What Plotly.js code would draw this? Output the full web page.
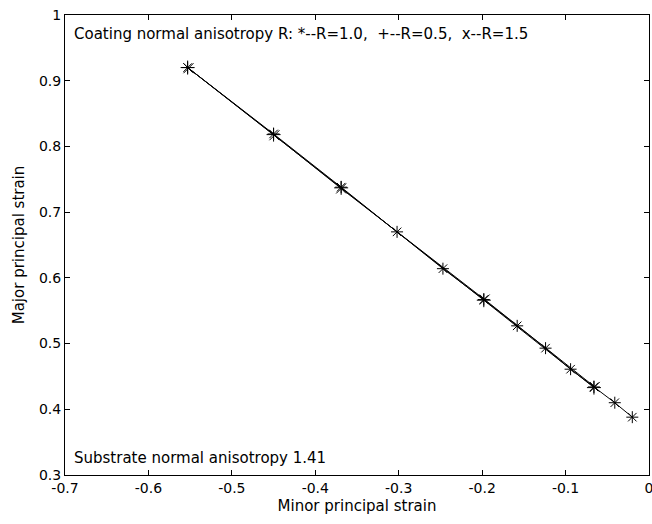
<!DOCTYPE html>
<html>
<head>
<meta charset="utf-8">
<script src="https://cdn.plot.ly/plotly-3.0.1.min.js"></script>
<style>html,body{margin:0;padding:0;background:#fff}#chart{width:652px;height:524px}</style>
</head>
<body>
<div id="chart"></div>
<script>
// R = 1.0 (*)
const minorR10 = [-0.553, -0.450, -0.369, -0.302, -0.247, -0.198, -0.158, -0.124, -0.094, -0.066, -0.041, -0.020];
const majorR10 = [0.920, 0.819, 0.738, 0.670, 0.614, 0.567, 0.527, 0.493, 0.461, 0.434, 0.410, 0.388];
// R = 0.5 (+)
const minorR05 = [-0.553, -0.450, -0.369, -0.198, -0.066];
const majorR05 = [0.920, 0.818, 0.737, 0.566, 0.433];
// R = 1.5 (x)
const minorR15 = [-0.552, -0.449, -0.369, -0.197, -0.065];
const majorR15 = [0.919, 0.817, 0.736, 0.567, 0.434];

const xTicks = [-0.7, -0.6, -0.5, -0.4, -0.3, -0.2, -0.1, 0];
const xTickText = ['-0.7', '-0.6', '-0.5', '-0.4', '-0.3', '-0.2', '-0.1', '0'];
const yTicks = [0.3, 0.4, 0.5, 0.6, 0.7, 0.8, 0.9, 1];
const yTickText = ['0.3', '0.4', '0.5', '0.6', '0.7', '0.8', '0.9', '1'];

const FONT = '"DejaVu Sans", "Liberation Sans", Arial, sans-serif';

function series(x, y, sym) {
  return {
    x: x, y: y, type: 'scatter', mode: 'lines+markers',
    line: {color: '#000', width: 1},
    marker: {symbol: sym, size: 10, color: '#000', line: {color: '#000', width: 1}},
    showlegend: false, hoverinfo: 'skip'
  };
}

const data = [
  series(minorR10, majorR10, 'asterisk-open'),
  series(minorR05, majorR05, 'cross-thin-open'),
  series(minorR15, majorR15, 'x-thin-open')
];

const axisCommon = {
  showgrid: false, zeroline: false, showline: true, linecolor: '#000', linewidth: 1,
  mirror: 'ticks', ticks: 'inside', ticklen: 5, tickcolor: '#000', tickwidth: 1,
  ticklabeloverflow: 'allow',
  tickfont: {family: FONT, size: 14, color: '#000'}
};

const layout = {
  width: 652, height: 524,
  margin: {l: 65, r: 3, t: 15, b: 49},
  paper_bgcolor: '#fff', plot_bgcolor: '#fff',
  font: {family: FONT, size: 15, color: '#000'},
  xaxis: Object.assign({}, axisCommon, {
    range: [-0.7, 0], tickvals: xTicks, ticktext: xTickText,
    title: {text: 'Minor principal strain', font: {family: FONT, size: 15, color: '#000'}, standoff: 5}
  }),
  yaxis: Object.assign({}, axisCommon, {
    range: [0.3, 1], tickvals: yTicks, ticktext: yTickText,
    title: {text: 'Major principal strain', font: {family: FONT, size: 15, color: '#000'}, standoff: 10}
  }),
  annotations: [
    {xref: 'paper', yref: 'paper', x: 0.012, y: 0.958, xanchor: 'left', yanchor: 'middle',
     text: 'Coating normal anisotropy R: *--R=1.0,  +--R=0.5,  x--R=1.5', showarrow: false,
     font: {family: FONT, size: 15, color: '#000'}},
    {xref: 'paper', yref: 'paper', x: 0.012, y: 0.038, xanchor: 'left', yanchor: 'middle',
     text: 'Substrate normal anisotropy 1.41', showarrow: false,
     font: {family: FONT, size: 15, color: '#000'}}
  ]
};

Plotly.newPlot('chart', data, layout, {displayModeBar: false, staticPlot: true});
</script>
</body>
</html>
